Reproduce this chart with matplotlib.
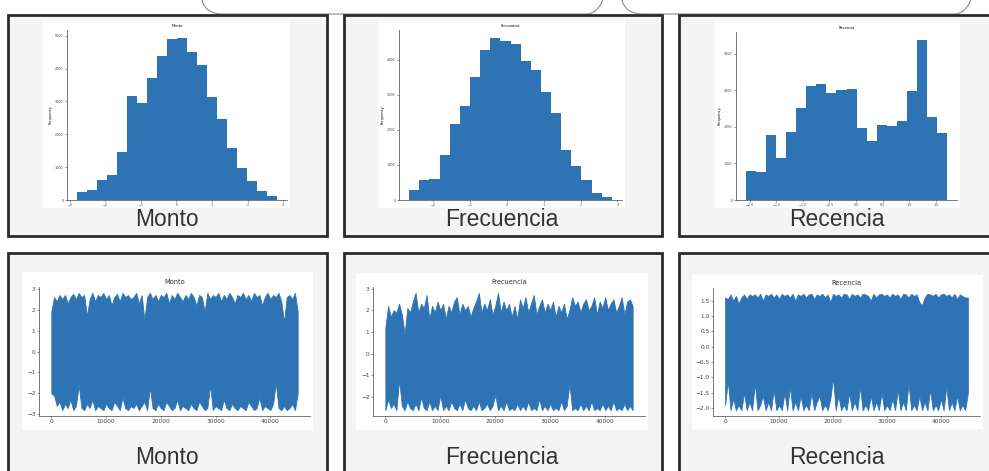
import numpy as np
import matplotlib.pyplot as plt
from matplotlib.patches import Rectangle, FancyBboxPatch

W, H = 989, 471
BLUE = '#2e74b5'

# histogram counts (20 bins each) and the range the bins cover
monto_counts = [230, 295, 610, 760, 1450, 3160, 2940, 3730, 4370, 4900,
                4930, 4520, 4100, 3140, 2470, 1590, 965, 580, 285, 130]
monto_range = (-2.80, 2.83)
frec_counts = [276, 570, 590, 1285, 2160, 2690, 3500, 4270, 4620, 4550,
               4450, 3970, 3720, 3070, 2480, 1420, 980, 580, 200, 86]
frec_range = (-2.65, 2.85)
rec_counts = [790, 775, 1780, 1150, 1870, 2510, 3100, 3160, 2910, 3010,
              3030, 1970, 1600, 2040, 2010, 2170, 2990, 4370, 2280, 1840]
rec_range = (-2.07, 1.71)

# row index, sampled every 500 rows, with the top / bottom edge of the noisy line
rows = np.arange(0, 45001, 500)
monto_hi = [1.9, 2.6, 2.4, 2.7, 2.5, 2.7, 2.3, 2.6, 2.75, 2.5,
            2.8, 2.6, 2.7, 1.7, 2.5, 2.8, 2.4, 2.7, 2.6, 2.8,
            2.5, 2.7, 2.2, 2.6, 2.75, 2.4, 2.8, 2.6, 2.7, 2.5,
            2.6, 2.8, 2.3, 2.7, 1.5, 2.6, 2.8, 2.5, 2.7, 2.4,
            2.7, 2.6, 2.8, 2.3, 2.7, 2.5, 2.8, 2.6, 2.4, 2.7,
            2.5, 2.8, 2.6, 2.2, 2.7, 2.6, 1.9, 2.8, 2.5, 2.7,
            2.6, 2.8, 2.4, 2.7, 2.5, 2.8, 2.6, 2.3, 2.7, 2.6,
            2.8, 2.5, 2.7, 2.4, 2.8, 2.6, 2.7, 2.2, 2.6, 2.8,
            2.5, 2.7, 2.6, 2.8, 2.4, 1.4, 2.6, 2.7, 2.5, 2.8,
            1.9]
monto_lo = [-2.0, -2.1, -2.6, -2.4, -2.8, -2.5, -2.7, -2.3, -2.8, -2.6,
            -1.6, -2.7, -2.8, -2.5, -2.7, -2.3, -2.8, -2.6, -2.7, -2.8,
            -2.5, -2.7, -2.8, -2.4, -2.6, -2.8, -2.2, -2.7, -2.8, -2.6,
            -2.7, -2.5, -2.8, -2.6, -2.4, -2.8, -1.7, -2.7, -2.8, -2.5,
            -2.7, -2.8, -2.4, -2.6, -2.8, -2.7, -2.3, -2.8, -2.6, -2.7,
            -2.8, -2.5, -2.7, -2.8, -2.4, -2.6, -2.8, -2.7, -1.6, -2.8,
            -2.6, -2.7, -2.8, -2.3, -2.7, -2.8, -2.5, -2.7, -2.8, -2.6,
            -2.7, -2.8, -2.4, -2.6, -2.8, -2.7, -2.2, -2.8, -2.6, -2.7,
            -2.8, -2.5, -1.5, -2.7, -2.8, -2.6, -2.8, -2.7, -2.5, -2.8,
            -2.0]
frec_hi = [1.2, 2.2, 1.7, 2.0, 1.9, 2.3, 1.8, 0.9, 2.1, 1.9,
           2.4, 2.8, 1.9, 2.3, 2.1, 2.7, 1.6, 2.2, 1.9, 2.4,
           2.0, 2.3, 1.6, 2.2, 1.9, 2.4, 2.6, 1.8, 2.3, 2.0,
           2.2, 1.7, 2.1, 2.4, 2.8, 1.9, 2.3, 2.0, 2.5, 1.8,
           2.2, 2.8, 1.9, 2.4, 2.0, 2.3, 1.7, 2.2, 1.6, 2.5,
           2.1, 2.6, 1.9, 2.3, 2.7, 1.8, 2.2, 2.5, 1.9, 2.3,
           2.0, 2.4, 1.7, 2.2, 1.9, 2.3, 1.6, 2.0, 2.6, 2.2,
           2.4, 1.9, 2.3, 2.5, 2.0, 2.2, 2.6, 1.8, 2.4, 2.1,
           2.6, 2.0, 2.3, 2.5, 1.9, 2.2, 2.6, 1.8, 2.4, 2.5,
           2.2]
frec_lo = [-2.6, -2.1, -2.5, -2.3, -2.6, -1.2, -2.4, -2.6, -2.2, -2.5,
           -2.6, -2.3, -2.6, -2.0, -2.5, -2.6, -2.2, -2.6, -2.4, -2.6,
           -1.9, -2.6, -2.4, -2.6, -2.2, -2.5, -2.6, -2.3, -2.6, -2.1,
           -2.5, -2.6, -2.4, -2.6, -2.2, -2.6, -2.5, -2.3, -2.6, -2.4,
           -1.9, -2.6, -2.4, -2.6, -2.2, -2.6, -2.5, -2.6, -2.3, -2.6,
           -2.4, -2.6, -2.2, -2.6, -2.5, -2.6, -2.1, -2.6, -2.4, -2.6,
           -2.3, -2.6, -2.5, -2.6, -2.2, -2.6, -2.4, -1.4, -2.6, -2.5,
           -2.6, -2.3, -2.6, -2.4, -2.6, -2.2, -2.6, -2.5, -2.6, -2.3,
           -2.6, -2.4, -2.6, -2.2, -2.6, -2.5, -2.6, -2.3, -2.6, -2.4,
           -2.6]
rec_hi = [1.6, 1.55, 1.7, 1.5, 1.65, 1.4, 1.6, 1.7, 1.55, 1.7,
          1.65, 1.7, 1.6, 1.72, 1.5, 1.7, 1.65, 1.72, 1.6, 1.7,
          1.55, 1.72, 1.65, 1.7, 1.6, 1.72, 1.5, 1.7, 1.65, 1.72,
          1.6, 1.7, 1.72, 1.55, 1.7, 1.65, 1.72, 1.6, 1.7, 1.45,
          1.72, 1.65, 1.7, 1.6, 1.72, 1.7, 1.55, 1.72, 1.65, 1.7,
          1.6, 1.72, 1.7, 1.65, 1.5, 1.72, 1.6, 1.7, 1.72, 1.65,
          1.7, 1.6, 1.72, 1.65, 1.7, 1.55, 1.72, 1.7, 1.6, 1.72,
          1.65, 1.7, 1.45, 1.35, 1.6, 1.72, 1.7, 1.65, 1.72, 1.6,
          1.7, 1.72, 1.65, 1.7, 1.6, 1.72, 1.55, 1.7, 1.65, 1.6,
          1.6]
rec_lo = [-1.9, -1.1, -2.07, -1.7, -2.07, -1.9, -2.07, -1.5, -2.07, -1.8,
          -2.07, -1.2, -2.07, -1.9, -1.6, -2.07, -1.8, -2.07, -1.4, -2.07,
          -1.9, -2.07, -1.5, -2.07, -1.3, -2.07, -1.8, -2.07, -1.6, -2.07,
          -1.9, -2.07, -1.5, -2.07, -1.8, -1.6, -2.07, -1.9, -2.07, -1.7,
          -1.0, -2.07, -1.6, -2.07, -1.9, -2.07, -1.5, -2.07, -1.8, -2.07,
          -1.3, -2.07, -1.9, -2.07, -1.6, -2.07, -1.8, -2.07, -1.5, -2.07,
          -1.9, -2.07, -1.7, -2.07, -1.4, -2.07, -1.8, -2.07, -1.2, -2.07,
          -1.9, -2.07, -1.6, -2.07, -1.8, -2.07, -1.4, -2.07, -1.9, -2.07,
          -1.7, -2.07, -1.3, -2.07, -1.8, -2.07, -1.6, -2.07, -1.9, -2.07,
          -1.5]

names = ['Monto', 'Frecuencia', 'Recencia']

fig = plt.figure(figsize=(W / 100, H / 100), dpi=100)
fig.patch.set_facecolor('white')

# slide background layer in pixel coordinates
bg = fig.add_axes([0, 0, 1, 1])
bg.set_xlim(0, W)
bg.set_ylim(H, 0)
bg.axis('off')

for x0, x1 in [(201, 608), (621, 976)]:
    bg.add_patch(FancyBboxPatch((x0, -60), x1 - x0, 74, boxstyle='round,pad=0,rounding_size=22',
                                fc='none', ec='#8a8a8a', lw=0.8))

frames = [(8, 15, 327, 236), (344, 15, 662, 236), (679, 15, 992, 236),
          (8, 253, 327, 480), (344, 253, 662, 480), (679, 253, 992, 480)]
cards = [(43, 20, 290, 208), (379, 20, 625, 208), (715, 20, 960, 208),
         (22, 272, 313, 430), (356, 273, 648, 430), (692, 275, 983, 429)]
for l, t, r, b in frames:
    bg.add_patch(Rectangle((l, t), r - l, b - t, fc='#f4f4f4', ec='#2b2b2b', lw=2.0))
for l, t, r, b in cards:
    bg.add_patch(Rectangle((l, t), r - l, b - t, fc='white', ec='none'))

for i, name in enumerate(names):
    cx = [167, 502, 837][i]
    bg.text(cx, 220, name, ha='center', va='center', fontsize=16.5,
            family='Liberation Sans', color='#333333')
    bg.text(cx, 458, name, ha='center', va='center', fontsize=16.5,
            family='Liberation Sans', color='#333333')


def px_axes(l, t, r, b):
    return fig.add_axes([l / W, 1 - b / H, (r - l) / W, (b - t) / H])


def style(ax, size):
    for s in ['top', 'right']:
        ax.spines[s].set_visible(False)
    for s in ['left', 'bottom']:
        ax.spines[s].set_linewidth(0.5)
        ax.spines[s].set_color('#444444')
    ax.tick_params(labelsize=size, length=1.5, width=0.4, pad=1, colors='#444444')


# top row: histograms
hists = [(monto_counts, monto_range), (frec_counts, frec_range), (rec_counts, rec_range)]
hist_boxes = [(67, 30, 287, 200), (399, 30, 622, 200), (736, 32, 957, 200)]
for name, (counts, rng), box in zip(names, hists, hist_boxes):
    ax = px_axes(*box)
    edges = np.linspace(rng[0], rng[1], len(counts) + 1)
    ax.hist(edges[:-1] + np.diff(edges) / 2, bins=edges, weights=counts,
            histtype='stepfilled', color=BLUE, lw=0)
    ax.set_title(name, fontsize=2.6, pad=2)
    ax.set_ylabel('Frequency', fontsize=2.6, labelpad=2)
    style(ax, 2.4)

ax = fig.axes[-1]
ax.set_xticks([-2.0, -1.5, -1.0, -0.5, 0.0, 0.5, 1.0, 1.5])

# bottom row: series plotted against row index
lines = [(monto_hi, monto_lo), (frec_hi, frec_lo), (rec_hi, rec_lo)]
line_boxes = [(39, 287, 310, 416), (373, 287, 645, 416), (713, 288, 980, 416)]
for name, (hi, lo), box in zip(names, lines, line_boxes):
    ax = px_axes(*box)
    ax.fill_between(rows, lo, hi, color=BLUE, lw=0.6, ec=BLUE)
    ax.set_xticks([0, 10000, 20000, 30000, 40000])
    ax.set_title(name, fontsize=4.8, pad=2, color='#333333')
    style(ax, 4.2)

fig.savefig('out.png', dpi=100)
